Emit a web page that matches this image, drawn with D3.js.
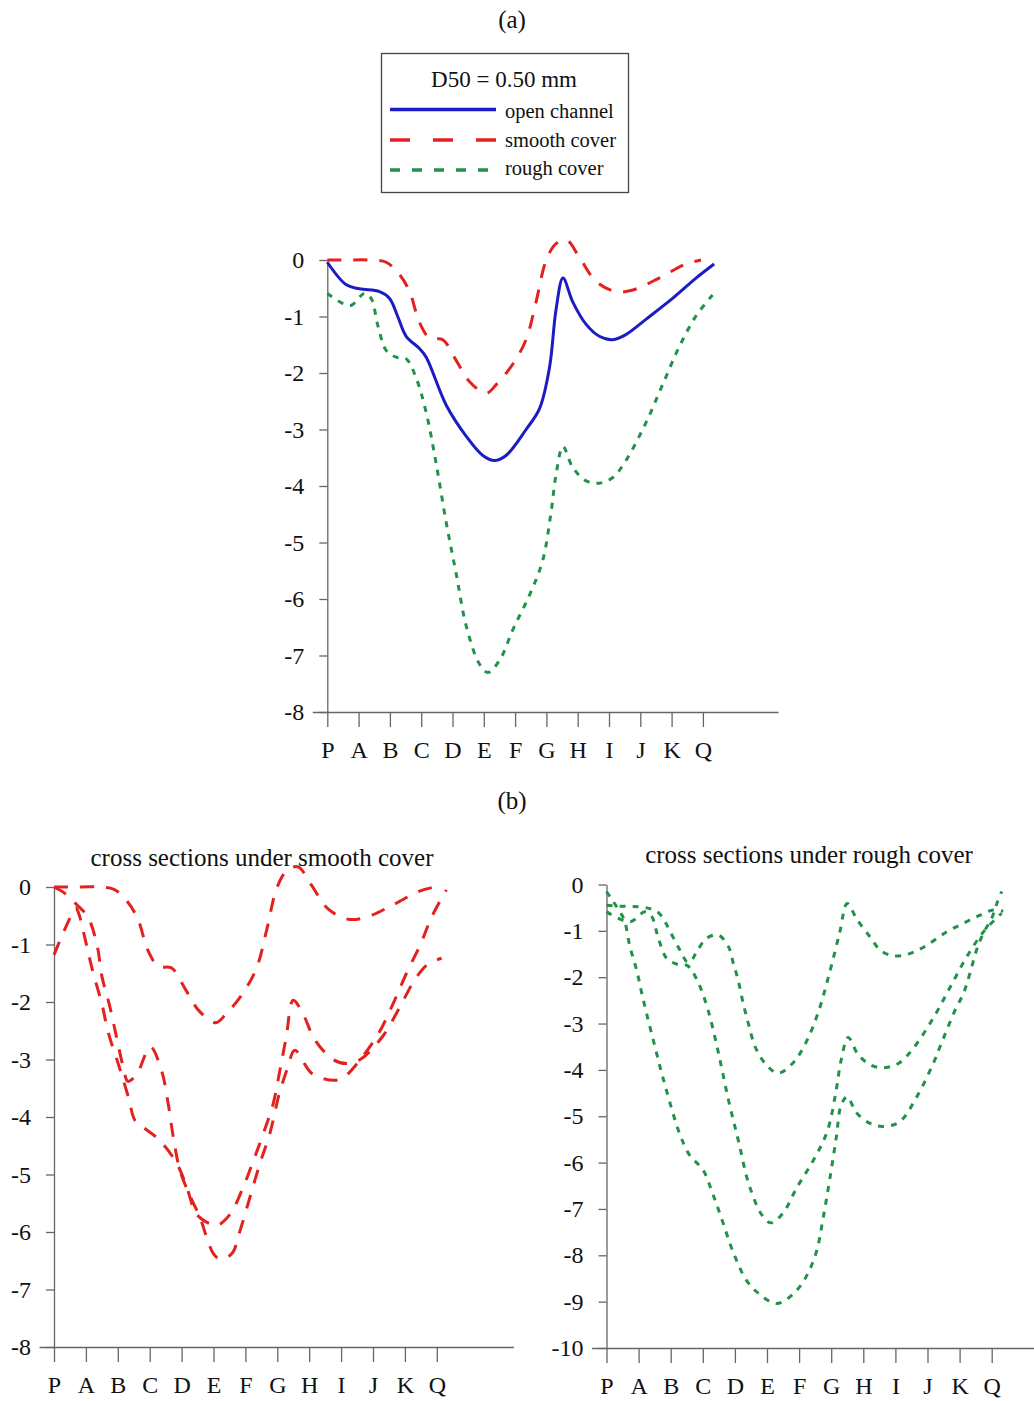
<!DOCTYPE html>
<html>
<head>
<meta charset="utf-8">
<script src="https://cdn.jsdelivr.net/npm/d3@7"></script>
<style>
  html, body { margin: 0; padding: 0; background: #fff; }
  svg { display: block; font-family: "Liberation Serif", "Times New Roman", serif; }
</style>
</head>
<body>
<svg id="fig" width="1034" height="1401"></svg>
<script>
// Stations along the channel (x-axis categories)
const stations = ["P", "A", "B", "C", "D", "E", "F", "G", "H", "I", "J", "K", "Q"];

// Depth tick values
const depthTicks8 = [0, -1, -2, -3, -4, -5, -6, -7, -8];
const depthTicks10 = [0, -1, -2, -3, -4, -5, -6, -7, -8, -9, -10];

// Bed profiles: [station position, depth]
const openChannel = [
  [0, -0.04], [0.61, -0.44], [1.03, -0.51], [1.67, -0.56], [1.99, -0.68], [2.25, -1.0],
  [2.52, -1.35], [2.95, -1.57], [3.16, -1.72], [3.80, -2.57], [4.44, -3.12], [4.97, -3.46],
  [5.34, -3.55], [5.71, -3.46], [6.35, -3.0], [6.78, -2.63], [7.10, -1.90], [7.31, -0.87],
  [7.53, -0.32], [7.84, -0.74], [8.27, -1.14], [8.69, -1.35], [9.12, -1.41], [9.54, -1.32],
  [10.18, -1.05], [11.03, -0.68], [11.78, -0.32], [12.36, -0.07]
];

const smoothCover = [
  [0, 0], [0.6, 0], [1.35, 0], [1.88, -0.04], [2.31, -0.26], [2.63, -0.56], [2.95, -1.11],
  [3.27, -1.38], [3.69, -1.41], [4.12, -1.78], [4.54, -2.15], [5.07, -2.36], [5.39, -2.21],
  [5.93, -1.84], [6.35, -1.41], [6.67, -0.74], [6.99, -0.01], [7.31, 0.29], [7.65, 0.35],
  [8.05, 0.05], [8.59, -0.38], [9.22, -0.56], [9.76, -0.53], [10.6, -0.32], [11.46, -0.07],
  [11.94, 0]
];

const roughCover = [
  [0, -0.59], [0.5, -0.77], [0.77, -0.80], [1.19, -0.59], [1.40, -0.68], [1.62, -1.17],
  [1.88, -1.60], [2.2, -1.72], [2.52, -1.75], [2.84, -2.09], [3.16, -2.70], [3.48, -3.61],
  [3.80, -4.65], [4.12, -5.56], [4.44, -6.48], [4.86, -7.15], [5.13, -7.30], [5.5, -7.09],
  [5.93, -6.54], [6.46, -5.93], [6.88, -5.32], [7.15, -4.46], [7.31, -3.79], [7.53, -3.30],
  [7.84, -3.67], [8.27, -3.91], [8.69, -3.95], [9.12, -3.85], [9.54, -3.55], [10.18, -2.88],
  [10.71, -2.21], [11.24, -1.54], [11.78, -0.99], [12.31, -0.62]
];

// Further sections under the smooth cover
const smoothSection2 = [
  [0, 0], [0.34, -0.11], [0.7, -0.3], [1.07, -0.53], [1.36, -1.04], [1.5, -1.55],
  [1.75, -2.08], [1.96, -2.61], [2.17, -3.13], [2.32, -3.38], [2.6, -3.25], [3.02, -2.78],
  [3.37, -3.19], [3.58, -3.77], [3.74, -4.35], [3.95, -4.93], [4.26, -5.37], [4.58, -5.75],
  [4.79, -6.1], [5.0, -6.38], [5.2, -6.47], [5.57, -6.38], [5.83, -5.98], [6.14, -5.4],
  [6.46, -4.8], [6.77, -4.28], [7.05, -3.62], [7.32, -3.15], [7.55, -2.84], [8.1, -3.25],
  [8.86, -3.36], [9.17, -3.27], [9.6, -3.0], [10.17, -2.55], [10.63, -2.03], [11.05, -1.5],
  [11.5, -0.98], [11.84, -0.52], [12.3, -0.05]
];

const smoothSection3 = [
  [0, -1.18], [0.44, -0.61], [0.68, -0.36], [0.78, -0.47], [1.02, -1.01], [1.23, -1.5],
  [1.5, -2.03], [1.7, -2.53], [2.04, -3.12], [2.33, -3.65], [2.54, -4.06], [2.8, -4.18],
  [3.32, -4.41], [3.85, -4.81], [4.16, -5.22], [4.47, -5.69], [4.89, -5.86], [5.1, -5.89],
  [5.52, -5.69], [5.93, -5.22], [6.25, -4.76], [6.56, -4.29], [6.87, -3.77], [7.08, -3.19],
  [7.28, -2.61], [7.5, -1.97], [7.8, -2.2], [8.18, -2.66], [8.75, -3.0], [9.17, -3.07],
  [9.6, -3.0], [10.3, -2.6], [10.85, -2.08], [11.3, -1.62], [11.7, -1.35], [12.0, -1.27],
  [12.15, -1.24]
];

// Further sections under the rough cover
const roughSection1 = [
  [0, -0.45], [0.5, -0.47], [1.0, -0.48], [1.35, -0.52], [1.61, -0.6], [1.82, -0.8],
  [2.03, -1.08], [2.29, -1.42], [2.5, -1.66], [2.62, -1.66], [2.81, -1.45], [3.12, -1.16],
  [3.48, -1.09], [3.8, -1.34], [3.95, -1.7], [4.1, -2.06], [4.26, -2.57], [4.42, -3.0],
  [4.63, -3.5], [4.94, -3.86], [5.34, -4.07], [5.81, -3.85], [6.22, -3.4], [6.6, -2.75],
  [6.95, -1.9], [7.26, -1.05], [7.5, -0.41], [7.8, -0.75], [8.21, -1.13], [8.52, -1.41],
  [8.93, -1.54], [9.45, -1.49], [9.98, -1.31], [10.6, -1.02], [11.11, -0.84], [11.64, -0.66],
  [12.05, -0.55], [12.36, -0.58]
];

const roughSection3 = [
  [0, -0.15], [0.21, -0.37], [0.45, -0.62], [0.57, -0.8], [0.73, -1.34], [0.94, -1.85],
  [1.1, -2.35], [1.3, -2.93], [1.51, -3.5], [1.67, -3.94], [1.87, -4.45], [2.28, -5.38],
  [2.59, -5.84], [3.0, -6.15], [3.32, -6.69], [3.63, -7.3], [3.94, -7.92], [4.36, -8.54],
  [4.77, -8.84], [5.29, -9.04], [5.81, -8.84], [6.22, -8.46], [6.54, -7.92], [6.74, -7.23],
  [6.95, -6.38], [7.16, -5.45], [7.31, -4.76], [7.5, -4.58], [7.78, -4.92], [8.2, -5.15],
  [8.61, -5.22], [9.13, -5.12], [9.65, -4.6], [10.18, -3.86], [10.39, -3.5], [10.6, -3.14],
  [10.86, -2.71], [11.12, -2.35], [11.32, -1.92], [11.53, -1.41], [11.74, -1.05], [12.0, -0.73],
  [12.16, -0.41], [12.31, -0.15]
];

// Line styles
const BLUE = "#1c1cc4", RED = "#e3221f", GREEN = "#22914a";
const AXIS = "#666";

const svg = d3.select("#fig");
svg.append("rect").attr("width", 1034).attr("height", 1401).attr("fill", "#fff");

function drawPanel(cfg) {
  const g = svg.append("g");
  const x = d3.scaleLinear()
    .domain([-15 / cfg.step, 14.4])
    .range([cfg.x0 - 15, cfg.x0 + 14.4 * cfg.step]);
  const y = d3.scaleLinear()
    .domain([0, cfg.yMin])
    .range([cfg.yTop, cfg.yBottom]);

  const yAxis = g.append("g")
    .attr("transform", `translate(${cfg.x0},0)`)
    .call(d3.axisLeft(y).tickValues(cfg.ticks).tickSize(8).tickSizeOuter(0)
      .tickPadding(15).tickFormat(d => String(d)));
  const xAxis = g.append("g")
    .attr("transform", `translate(0,${cfg.yBottom})`)
    .call(d3.axisBottom(x).tickValues(d3.range(stations.length)).tickSize(15)
      .tickSizeOuter(0).tickPadding(14).tickFormat(i => stations[i]));

  [yAxis, xAxis].forEach(a => {
    a.attr("font-family", null).attr("font-size", null);
    a.selectAll(".domain, .tick line").attr("stroke", AXIS).attr("stroke-width", 1.3);
    a.selectAll("text").attr("fill", "#111");
  });
  yAxis.selectAll("text").attr("font-size", 24);
  xAxis.selectAll("text").attr("font-size", 24);

  if (cfg.title) {
    g.append("text").attr("x", cfg.titleX).attr("y", cfg.titleY)
      .attr("text-anchor", "middle").attr("font-size", 25).attr("fill", "#111")
      .text(cfg.title);
  }

  const line = d3.line()
    .x(d => x(d[0])).y(d => y(d[1]))
    .curve(d3.curveCatmullRom.alpha(0.5));

  cfg.series.forEach(s => {
    g.append("path")
      .datum(s.data)
      .attr("d", line)
      .attr("fill", "none")
      .attr("stroke", s.color)
      .attr("stroke-width", 3)
      .attr("stroke-dasharray", s.dash || null)
      .attr("stroke-linecap", "butt")
      .attr("stroke-linejoin", "round");
  });
}

const DASH = "14,12", DOT = "6,7";

// (a) comparison of the three configurations
drawPanel({
  x0: 327.3, step: 31.3, yTop: 260, yBottom: 712, yMin: -8, ticks: depthTicks8,
  series: [
    { data: roughCover, color: GREEN, dash: DOT },
    { data: smoothCover, color: RED, dash: DASH },
    { data: openChannel, color: BLUE }
  ]
});

// (b) left: sections under the smooth cover
drawPanel({
  x0: 54, step: 31.9, yTop: 887, yBottom: 1347, yMin: -8, ticks: depthTicks8,
  title: "cross sections under smooth cover", titleX: 262, titleY: 866,
  series: [
    { data: smoothCover, color: RED, dash: DASH },
    { data: smoothSection2, color: RED, dash: DASH },
    { data: smoothSection3, color: RED, dash: DASH }
  ]
});

// (b) right: sections under the rough cover
drawPanel({
  x0: 606.5, step: 32.1, yTop: 884.5, yBottom: 1348, yMin: -10, ticks: depthTicks10,
  title: "cross sections under rough cover", titleX: 809, titleY: 863,
  series: [
    { data: roughSection1, color: GREEN, dash: DOT },
    { data: roughCover, color: GREEN, dash: DOT },
    { data: roughSection3, color: GREEN, dash: DOT }
  ]
});

// Panel captions
svg.append("text").attr("x", 512).attr("y", 28).attr("text-anchor", "middle")
  .attr("font-size", 25).attr("fill", "#111").text("(a)");
svg.append("text").attr("x", 512).attr("y", 809).attr("text-anchor", "middle")
  .attr("font-size", 25).attr("fill", "#111").text("(b)");

// Legend
const legend = svg.append("g");
legend.append("rect").attr("x", 381.5).attr("y", 53.5).attr("width", 247).attr("height", 139)
  .attr("fill", "#fff").attr("stroke", "#444").attr("stroke-width", 1.3);
legend.append("text").attr("x", 504).attr("y", 87).attr("text-anchor", "middle")
  .attr("font-size", 23).attr("fill", "#111").text("D50 = 0.50 mm");
const legendItems = [
  { label: "open channel", color: BLUE, dash: null, y: 109.5, ty: 118 },
  { label: "smooth cover", color: RED, dash: "20,23", y: 140, ty: 147 },
  { label: "rough cover", color: GREEN, dash: "10,12", y: 170, ty: 175 }
];
legendItems.forEach(it => {
  legend.append("line").attr("x1", 390).attr("x2", 496).attr("y1", it.y).attr("y2", it.y)
    .attr("stroke", it.color).attr("stroke-width", 3.5).attr("stroke-dasharray", it.dash);
  legend.append("text").attr("x", 505).attr("y", it.ty).attr("font-size", 20.5)
    .attr("fill", "#111").text(it.label);
});
</script>
</body>
</html>
